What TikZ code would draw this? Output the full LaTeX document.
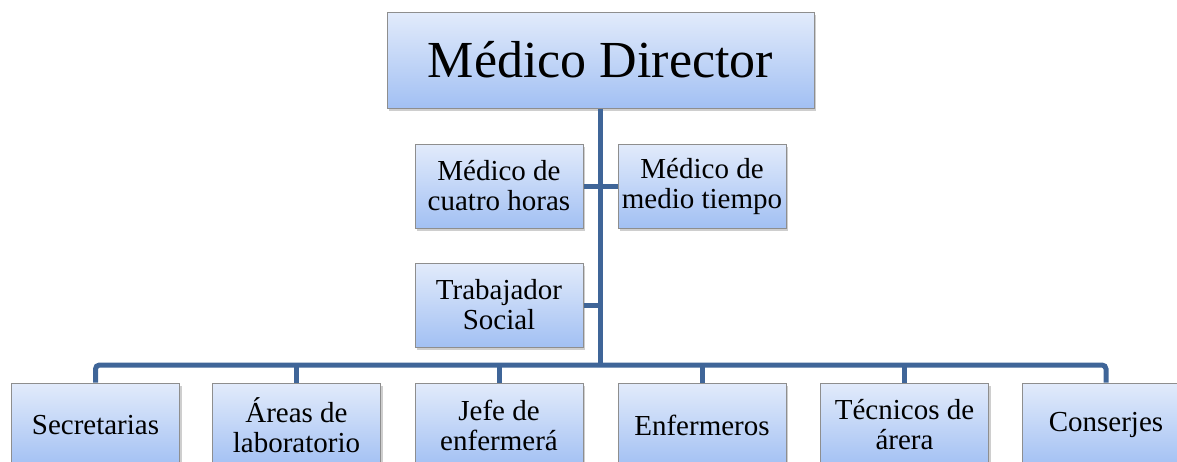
\documentclass[tikz,border=0pt]{standalone}
\usepackage{fontspec}
\setmainfont{Liberation Serif}
\usetikzlibrary{shadows}
\definecolor{linecol}{HTML}{3F6598}
\definecolor{boxtop}{HTML}{E2EBFB}
\definecolor{boxbot}{HTML}{A2C0F3}
\definecolor{boxline}{HTML}{8E8E8E}
\begin{document}
\begin{tikzpicture}[x=1pt,y=-1pt,
  orgbox/.style={rectangle, draw=boxline, line width=1pt, top color=boxtop, bottom color=boxbot,
    align=center, inner sep=0pt, text=black,
    drop shadow={shadow xshift=2pt, shadow yshift=-3pt, opacity=0.35, fill=black!55}},
  smallbox/.style={orgbox, minimum width=168pt, minimum height=84pt, font=\fontsize{29}{30}\selectfont},
  conn/.style={draw=linecol, line width=5pt}]
\useasboundingbox (0,0) rectangle (1177,461);
\clip (0,0) rectangle (1177,461);
\coordinate (bus) at (600,365);
\node[orgbox, minimum width=427pt, minimum height=96pt, font=\fontsize{52}{56}\selectfont] (top) at (600.5,60) {Médico Director};
\node[smallbox] (m1) at (499,186) {Médico de\\cuatro horas};
\node[smallbox] (m2) at (702,186) {Médico de\\medio tiempo};
\node[smallbox] (ts) at (499,305) {Trabajador\\Social};
\node[smallbox] (b1) at (95.5,425) {Secretarias};
\node[smallbox] (b2) at (296.5,425) {Áreas de\\laboratorio};
\node[smallbox] (b3) at (499,425) {Jefe de\\enfermerá};
\node[smallbox] (b4) at (702,425) {Enfermeros};
\node[smallbox] (b5) at (904.5,425) {Técnicos de\\árera};
\node[smallbox] (b6) at (1106,425) {Conserjes};
\begin{scope}[on background layer/.style={}]
\draw[conn] (top.south) -- (top.south |- bus);
\draw[conn] (m1.east) -- (m2.west);
\draw[conn] (ts.east) -- (ts.east -| top.south);
\draw[conn, rounded corners=4pt] (b1.north) -- (b1.north |- bus) -- (b6.north |- bus) -- (b6.north);
\draw[conn] (b2.north) -- (b2.north |- bus);
\draw[conn] (b3.north) -- (b3.north |- bus);
\draw[conn] (b4.north) -- (b4.north |- bus);
\draw[conn] (b5.north) -- (b5.north |- bus);
\end{scope}
\end{tikzpicture}
\end{document}
